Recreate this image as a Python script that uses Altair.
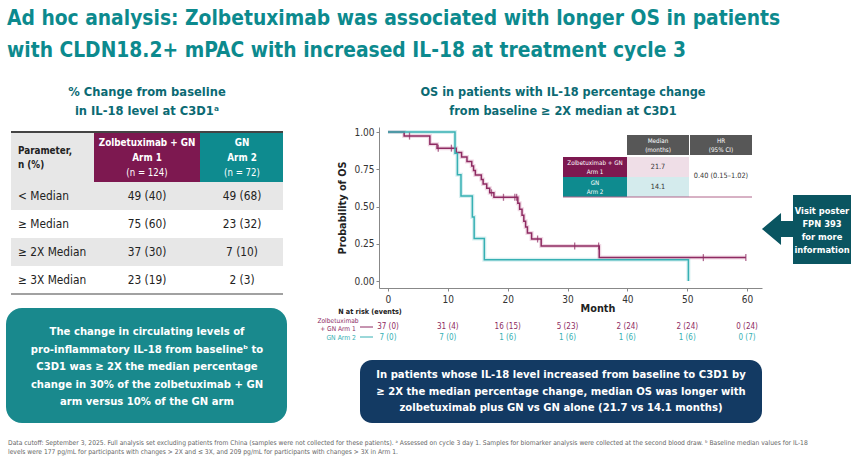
import altair as alt
import pandas as pd

FONT = "DejaVu Sans Condensed, Liberation Sans Narrow, Arial Narrow, sans-serif"

# ---------------- Kaplan–Meier curves (months, survival probability) ----------------
arm1_time = [0, 2.7, 7.0, 8.2, 11.4, 12.3, 13.2, 14.0, 14.3, 14.6, 15.6, 15.9, 16.5, 17.0, 17.7,
             21.7, 22.0, 22.4, 22.7, 23.0, 23.3, 24.0, 25.6, 35.3, 59.8]
arm1_surv = [1.0, 0.973, 0.919, 0.892, 0.862, 0.832, 0.802, 0.772, 0.742, 0.712, 0.682, 0.652, 0.622,
             0.592, 0.562, 0.522, 0.482, 0.442, 0.402, 0.362, 0.322, 0.282, 0.235, 0.157, 0.157]
arm1_censor = [3.6, 8.4, 10.6, 17.3, 19.3, 21.2, 21.5, 25.0, 31.2, 35.2, 52.7, 59.8]

arm2_time = [0, 11.2, 11.6, 12.2, 14.1, 14.4, 16.1, 50.2]
arm2_surv = [1.0, 0.857, 0.714, 0.571, 0.429, 0.286, 0.143, 0.0]

# ---------------- Number at risk (events) ----------------
risk_months = [0, 10, 20, 30, 40, 50, 60]
arm1_at_risk = [37, 31, 16, 5, 2, 2, 0]
arm1_events = [0, 4, 15, 23, 24, 24, 24]
arm2_at_risk = [7, 7, 1, 1, 1, 1, 0]
arm2_events = [0, 0, 6, 6, 6, 6, 7]

# ---------------- IL-18 change table ----------------
table_rows = ["< Median", "≥ Median", "≥ 2X Median", "≥ 3X Median"]
tab_arm1_n = [49, 75, 37, 23]
tab_arm1_pct = [40, 60, 30, 19]
tab_arm2_n = [49, 23, 7, 2]
tab_arm2_pct = [68, 32, 10, 3]

# ---------------- Median OS / HR ----------------
median_arm1 = 21.7
median_arm2 = 14.1
hr, hr_lo, hr_hi = 0.40, 0.15, 1.02

ARM1 = "Zolbetuximab + GN Arm 1"
ARM2 = "GN Arm 2"
MAROON = "#7D1850"
TEAL = "#0E8B8F"
LINE_M = "#8E2B62"
LINE_T = "#36B0B3"
DARK_TEAL = "#0B6A73"

W, H = 865, 458
ONE = alt.Data(values=[{}])


def text(lines, x, y, size, color="#222", bold=False, align="center", lh=None):
    # y is the centre of the first line
    return alt.Chart(ONE).mark_text(
        text=lines, font=FONT, fontSize=size, fontWeight="bold" if bold else "normal",
        color=color, align=align, baseline="middle", lineHeight=lh or size * 1.2,
    ).encode(x=alt.value(x), y=alt.value(y))


def box(x0, x1, y0, y1, color, radius=0):
    return alt.Chart(ONE).mark_rect(color=color, cornerRadius=radius).encode(
        x=alt.value(x0), x2=alt.value(x1), y=alt.value(y0), y2=alt.value(y1))


def rule(x0, x1, y0, y1, color, width=1.0):
    return alt.Chart(ONE).mark_rule(color=color, strokeWidth=width).encode(
        x=alt.value(x0), x2=alt.value(x1), y=alt.value(y0), y2=alt.value(y1))


layers = []

# ---------------- Slide title ----------------
layers.append(text(["Ad hoc analysis: Zolbetuximab was associated with longer OS in patients",
                    "with CLDN18.2+ mPAC with increased IL-18 at treatment cycle 3"],
                   7, 19, 20.8, "#0C8A8E", bold=True, align="left", lh=32))

# ---------------- Left: table ----------------
layers.append(text(["% Change from baseline", "in IL-18 level at C3D1ᵃ"], 147, 92, 12.8,
                   DARK_TEAL, bold=True, lh=19))

tab_top, head_bot, tab_bot = 132, 182, 294
c0, c1, c2, c3 = 11, 94, 200, 283
layers.append(box(c0, c1, tab_top, head_bot, "#E7E7E7"))
layers.append(box(c1, c2, tab_top, head_bot, MAROON))
layers.append(box(c2, c3, tab_top, head_bot, TEAL))

tab_df = pd.DataFrame({
    "row": table_rows,
    "shade": ["grey", "white", "grey", "white"],
    "arm1": [f"{n} ({p})" for n, p in zip(tab_arm1_n, tab_arm1_pct)],
    "arm2": [f"{n} ({p})" for n, p in zip(tab_arm2_n, tab_arm2_pct)],
})
row_band = alt.Scale(type="band", domain=table_rows, range=[head_bot, tab_bot], paddingInner=0, paddingOuter=0)
layers.append(alt.Chart(tab_df).mark_rect().encode(
    x=alt.value(c0), x2=alt.value(c3),
    y=alt.Y("row:N", scale=row_band, axis=None),
    color=alt.Color("shade:N", scale=alt.Scale(domain=["grey", "white"], range=["#E7E7E7", "#FFFFFF"]),
                    legend=None)))
for field, xpos, align in [("row", 18, "left"), ("arm1", 147, "center"), ("arm2", 242, "center")]:
    layers.append(alt.Chart(tab_df).mark_text(font=FONT, fontSize=11.8, color="#222", align=align,
                                              baseline="middle").encode(
        x=alt.value(xpos),
        y=alt.Y("row:N", scale=row_band, axis=None, bandPosition=0.5),
        text=f"{field}:N"))
layers.append(rule(c0, c3, tab_top, tab_top, "#444", 2))
layers.append(rule(c0, c3, tab_bot, tab_bot, "#444", 1.2))

layers.append(text(["Parameter,", "n (%)"], 18, 151, 9.8, "#222", bold=True, lh=14, align="left"))
layers.append(text(["Zolbetuximab + GN", "Arm 1"], 147, 143, 9.8, "white", bold=True, lh=15))
layers.append(text("(n = 124)", 147, 173, 9.6, "white"))
layers.append(text(["GN", "Arm 2"], 242, 143, 9.8, "white", bold=True, lh=15))
layers.append(text("(n = 72)", 242, 173, 9.6, "white"))

# ---------------- Left: teal callout ----------------
layers.append(box(6, 287, 308, 423, "#19898D", radius=16))
layers.append(text(["The change in circulating levels of",
                    "pro-inflammatory IL-18 from baselineᵇ to",
                    "C3D1 was ≥ 2X the median percentage",
                    "change in 30% of the zolbetuximab + GN",
                    "arm versus 10% of the GN arm"], 147, 332, 11.2, "white", bold=True, lh=17.5))

# ---------------- Right: KM plot ----------------
layers.append(text(["OS in patients with IL-18 percentage change",
                    "from baseline ≥ 2X median at C3D1"], 563, 92, 12.6, DARK_TEAL, bold=True, lh=19))

KM_X = alt.Scale(domain=[-1.5, 62.5], range=[379, 762], nice=False, zero=False)
KM_Y = alt.Scale(domain=[-0.047, 1.034], range=[288, 127], nice=False, zero=False)
ARM_COL = alt.Scale(domain=[ARM1, ARM2], range=[LINE_M, LINE_T])
ARM_HALO = alt.Scale(domain=[ARM1, ARM2], range=["#DDA9C4", "#A9DEDF"])

km_df = pd.concat([
    pd.DataFrame({"month": arm1_time, "surv": arm1_surv, "arm": ARM1}),
    pd.DataFrame({"month": arm2_time, "surv": arm2_surv, "arm": ARM2}),
], ignore_index=True)


def surv_at(times, survs, t):
    s = survs[0]
    for ti, si in zip(times, survs):
        if ti <= t:
            s = si
    return s


cens_df = pd.DataFrame({"month": arm1_censor,
                        "surv": [surv_at(arm1_time, arm1_surv, t) for t in arm1_censor],
                        "arm": ARM1})

x_axis = alt.Axis(values=risk_months, offset=-(H - 288), title=None, labelFont=FONT,
                  labelFontSize=10, labelColor="#333", tickColor="#888", domainColor="#888",
                  tickSize=3, labelPadding=3, grid=False)
y_axis = alt.Axis(values=[0, 0.25, 0.5, 0.75, 1.0], format=".2f", offset=-379, title="Probability of OS",
                  titleFont=FONT, titleFontSize=10.8, titleFontWeight="bold", titleColor="#222",
                  titlePadding=6, labelFont=FONT, labelFontSize=10, labelColor="#333",
                  tickColor="#888", domainColor="#888", tickSize=3, labelPadding=2, grid=False)

layers.append(alt.Chart(km_df).mark_line(interpolate="step-after", strokeWidth=4, opacity=0.45).encode(
    x=alt.X("month:Q", scale=KM_X, axis=None),
    y=alt.Y("surv:Q", scale=KM_Y, axis=None),
    color=alt.Color("arm:N", scale=ARM_HALO, legend=None)))
layers.append(alt.Chart(km_df).mark_line(interpolate="step-after", strokeWidth=1.5).encode(
    x=alt.X("month:Q", scale=KM_X, axis=x_axis),
    y=alt.Y("surv:Q", scale=KM_Y, axis=y_axis),
    color=alt.Color("arm:N", scale=ARM_COL, legend=None)))
layers.append(alt.Chart(cens_df).mark_tick(orient="vertical", size=7, thickness=1.3).encode(
    x=alt.X("month:Q", scale=KM_X, axis=None),
    y=alt.Y("surv:Q", scale=KM_Y, axis=None),
    color=alt.Color("arm:N", scale=ARM_COL, legend=None)))
layers.append(text("Month", 598, 309, 10.8, "#222", bold=True))

# ---------------- Median / HR inset ----------------
layers.append(box(627, 689, 135, 155, "#575757"))
layers.append(box(690, 752, 135, 155, "#575757"))
layers.append(text(["Median", "(months)"], 658, 141, 6.3, "white", lh=9))
layers.append(text(["HR", "(95% CI)"], 721, 141, 6.3, "white", lh=9))
layers.append(box(563, 627, 157, 177, MAROON))
layers.append(box(627, 689, 157, 177, "#EFDEE7"))
layers.append(box(563, 627, 177, 197, TEAL))
layers.append(box(627, 689, 177, 197, "#D4EBED"))
layers.append(text(["Zolbetuximab + GN", "Arm 1"], 595, 163, 6.2, "white", lh=9))
layers.append(text(["GN", "Arm 2"], 595, 183, 6.2, "white", lh=9))
layers.append(text(f"{median_arm1:.1f}", 658, 167, 7.2, "#333"))
layers.append(text(f"{median_arm2:.1f}", 658, 187, 7.2, "#333"))
layers.append(text(f"{hr:.2f} ({hr_lo:.2f}–{hr_hi:.2f})", 721, 176, 7.3, "#333"))
layers.append(rule(563, 752, 197, 197, "#B0648A", 1))

# ---------------- Number at risk ----------------
layers.append(text("N at risk (events)", 370, 312, 7.2, "#222", bold=True))
layers.append(text(["Zolbetuximab", "+ GN Arm 1"], 338, 320.5, 6.6, LINE_M, lh=8.5))
layers.append(rule(360, 373, 327, 327, LINE_M, 1))
layers.append(text("GN Arm 2", 356, 338, 6.8, LINE_T, align="right"))
layers.append(rule(360, 373, 337, 337, LINE_T, 1))

risk_df = pd.DataFrame({
    "month": risk_months * 2,
    "label": [f"{n} ({e})" for n, e in zip(arm1_at_risk, arm1_events)]
             + [f"{n} ({e})" for n, e in zip(arm2_at_risk, arm2_events)],
    "arm": [ARM1] * len(risk_months) + [ARM2] * len(risk_months),
})
for arm, ypos in [(ARM1, 327), (ARM2, 338)]:
    layers.append(alt.Chart(risk_df).transform_filter(alt.datum.arm == arm).mark_text(
        font=FONT, fontSize=8, baseline="middle").encode(
        x=alt.X("month:Q", scale=KM_X, axis=None),
        y=alt.value(ypos),
        text="label:N",
        color=alt.Color("arm:N", scale=ARM_COL, legend=None)))

# ---------------- Bottom navy callout ----------------
layers.append(box(360, 762, 360, 423, "#133A63", radius=12))
layers.append(text(["In patients whose IL-18 level increased from baseline to C3D1 by",
                    "≥ 2X the median percentage change, median OS was longer with",
                    "zolbetuximab plus GN vs GN alone (21.7 vs 14.1 months)"], 561, 375, 11.2,
                   "white", bold=True, lh=16.5))

# ---------------- Poster pointer ----------------
layers.append(box(793, 851, 195, 264, "#0A5561"))
layers.append(alt.Chart(ONE).mark_point(
    shape="M-0.97,0L0.22,-1L0.22,-0.5L1.05,-0.5L1.05,0.5L0.22,0.5L0.22,1Z",
    size=1024, filled=True, opacity=1, color="#0A5561", strokeWidth=0).encode(
    x=alt.value(777.5), y=alt.value(229)))
layers.append(text(["Visit poster", "FPN 393", "for more", "information"], 822, 211, 9.3, "white",
                   bold=True, lh=12.9))

# ---------------- Footnote ----------------
layers.append(text(["Data cutoff: September 3, 2025. Full analysis set excluding patients from China (samples were not "
                    "collected for these patients). ᵃ Assessed on cycle 3 day 1. Samples for biomarker analysis were "
                    "collected at the second blood draw.  ᵇ Baseline median values for IL-18",
                    "levels were 177 pg/mL for participants with changes > 2X and ≤ 3X, and 209 pg/mL for "
                    "participants with changes > 3X in Arm 1."], 8, 443, 6.7, "#666", align="left", lh=8.5))

chart = alt.layer(*layers).resolve_scale(
    x="independent", y="independent", color="independent"
).properties(
    width=W, height=H, padding=0, autosize=alt.AutoSizeParams(type="none"), background="white"
).configure_view(stroke=None)

chart.save("out.html", embed_options={"renderer": "svg", "actions": False})
